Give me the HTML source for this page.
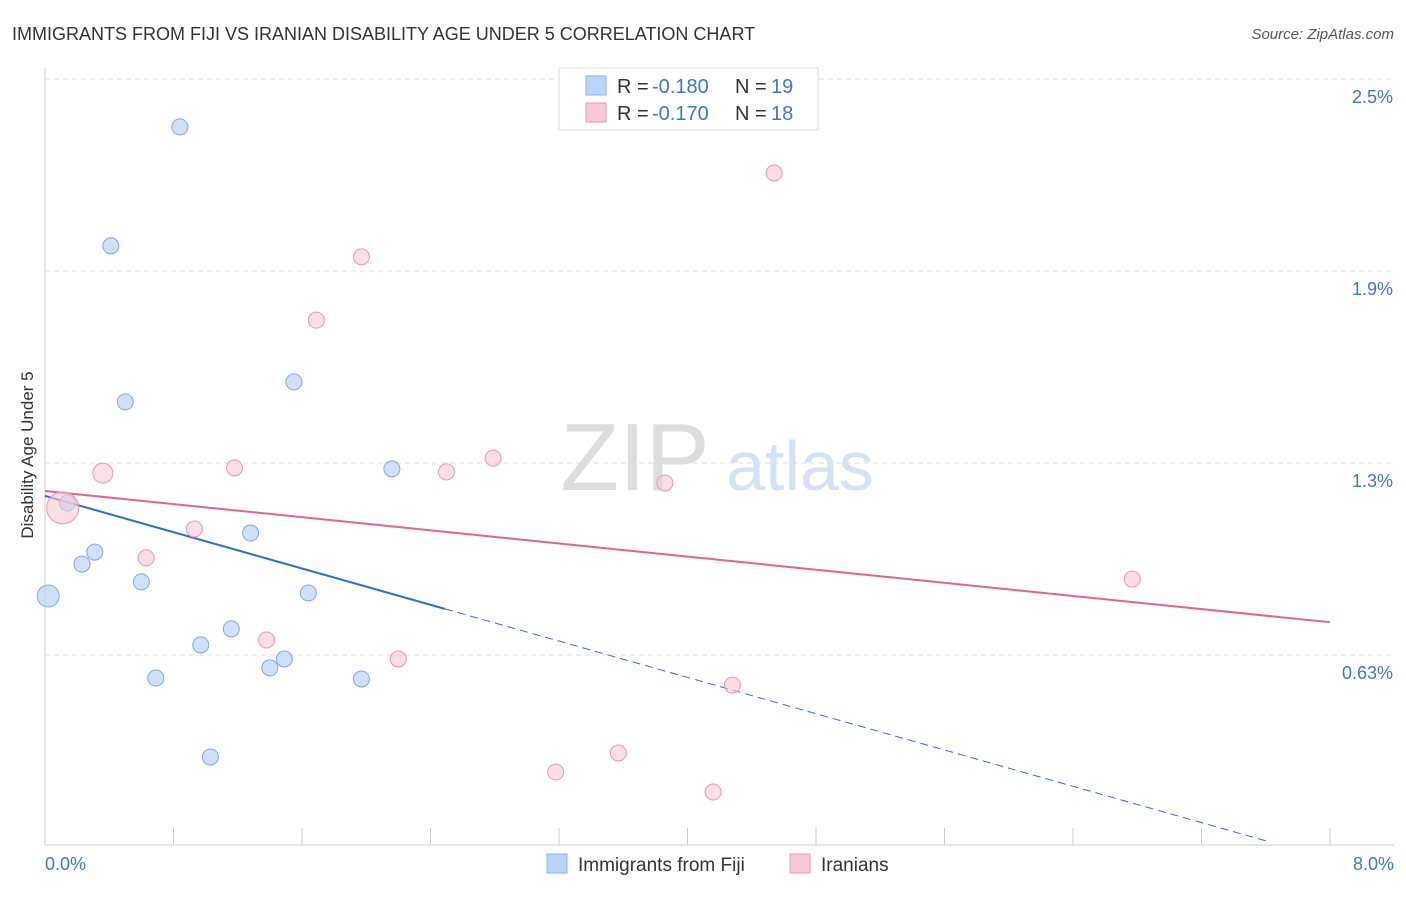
<!DOCTYPE html>
<html><head><meta charset="utf-8"><style>
body{margin:0;background:#fff;font-family:"Liberation Sans",sans-serif;}
svg text{font-family:"Liberation Sans",sans-serif;}
</style></head><body>
<svg id="c" width="1406" height="892" xmlns="http://www.w3.org/2000/svg">
<text x="12" y="40" font-size="18" fill="#333">IMMIGRANTS FROM FIJI VS IRANIAN DISABILITY AGE UNDER 5 CORRELATION CHART</text>
<text x="1394" y="39" font-size="15" fill="#555" font-style="italic" text-anchor="end">Source: ZipAtlas.com</text>
<text x="33" y="455" font-size="17" fill="#333" text-anchor="middle" transform="rotate(-90 33 455)">Disability Age Under 5</text>
<g><text x="635" y="490" font-size="96" fill="#ddd" font-family="Liberation Serif" text-anchor="middle">ZIP</text><text x="800" y="490" font-size="70" fill="#d4e2f4" text-anchor="middle">atlas</text></g>
<g id="grid"></g><g id="axes"></g><g id="trends"></g><g id="pts"></g>
<g>
<rect x="559" y="68" width="259" height="62" fill="#fff" stroke="#ddd"/>
<rect x="586" y="76" width="20" height="19" fill="#b9d4f5" stroke="#8ab3e8"/>
<text x="617" y="93" font-size="20" fill="#333">R =</text><text x="652" y="93" font-size="20" fill="#3a78d0">-0.180</text><text x="735" y="93" font-size="20" fill="#333">N =</text><text x="771" y="93" font-size="20" fill="#3a78d0">19</text>
<rect x="586" y="103" width="20" height="19" fill="#f9c8d6" stroke="#ee9ab2"/>
<text x="617" y="120" font-size="20" fill="#333">R =</text><text x="652" y="120" font-size="20" fill="#3a78d0">-0.170</text><text x="735" y="120" font-size="20" fill="#333">N =</text><text x="771" y="120" font-size="20" fill="#3a78d0">18</text>
</g>
<g>
<rect x="547" y="854" width="20" height="19" fill="#b9d4f5" stroke="#8ab3e8"/>
<text x="578" y="871" font-size="19" fill="#333">Immigrants from Fiji</text>
<rect x="790" y="854" width="20" height="19" fill="#f9c8d6" stroke="#ee9ab2"/>
<text x="821" y="871" font-size="19" fill="#333">Iranians</text>
</g>
</svg>
<script>
const yTicks=[0.625,1.25,1.875,2.5];
const yTickLabels=["0.63%","1.3%","1.9%","2.5%"];
const xTickLabels=["0.0%","8.0%"];
const fijiX=[0.84,0.41,0.50,1.55,2.16,0.14,0.31,0.23,0.60,1.28,1.64,0.02,1.16,0.97,1.49,1.40,0.69,1.97,1.03];
const fijiY=[2.344,1.957,1.449,1.514,1.231,1.120,0.960,0.921,0.863,1.022,0.827,0.817,0.710,0.658,0.612,0.583,0.550,0.547,0.293];
const fijiR=[8,8,8,8,8,8,8,8,8,8,8,11,8,8,8,8,8,8,8];
const iranXs=[4.54,1.97,1.69,1.18,0.36,2.50,2.79,3.86,0.11,0.93,0.63,6.77,1.38,2.20,4.28,3.57,3.18,4.16];
const iranYs=[2.194,1.921,1.715,1.234,1.217,1.221,1.266,1.185,1.104,1.035,0.941,0.872,0.674,0.612,0.527,0.306,0.244,0.179];
const iranR=[8,8,8,8,10,8,8,8,16,8,8,8,8,8,8,8,8,8];
const fijiTrend=[1.143,-0.1477];
const iranTrend=[1.159,-0.0534];
const NS="http://www.w3.org/2000/svg";
const X=v=>45+v*160.6, Y=v=>847-v*307.2;
function mk(tag,attrs,parent){const e=document.createElementNS(NS,tag);for(const k in attrs)e.setAttribute(k,attrs[k]);document.getElementById(parent).appendChild(e);return e;}
yTicks.forEach((t,i)=>{
 const l=mk('line',{x1:45,x2:1394,y1:Y(t),y2:Y(t),stroke:'#ddd','stroke-dasharray':'5,4'},'grid');
 
 
 const tx=mk('text',{x:1393,y:Y(t)+24,'font-size':18,fill:'#3a78d0','text-anchor':'end'},'grid');
 tx.textContent=yTickLabels[i];
 
 
});
mk('line',{x1:45,x2:45,y1:68,y2:845,stroke:'#ccc'},'axes');
const xa=mk('line',{x1:45,x2:1394,y1:845,y2:845,stroke:'#ccc'},'axes');


for(let i=1;i<=10;i++){const xx=45+i*128.5;mk('line',{x1:xx,x2:xx,y1:828,y2:845,stroke:'#ccc'},'axes');}
[[0,'start',45],[8,'end',1394]].forEach((a,i)=>{
 const t=mk('text',{x:a[2],y:870,'font-size':18,fill:'#3a78d0','text-anchor':a[1]},'axes');
 t.textContent=xTickLabels[i];
 
 
});
const bEnd=2.49, bDash=7.6;
const l1=mk('line',{x1:X(0),y1:Y(fijiTrend[0]),x2:X(bEnd),y2:Y(fijiTrend[0]+fijiTrend[1]*bEnd),stroke:'#2e6fd6','stroke-width':2},'trends');


const l2=mk('line',{x1:X(bEnd),y1:Y(fijiTrend[0]+fijiTrend[1]*bEnd),x2:X(bDash),y2:Y(fijiTrend[0]+fijiTrend[1]*bDash),stroke:'#2e6fd6','stroke-width':1,'stroke-dasharray':'8,5'},'trends');


const l3=mk('line',{x1:X(0),y1:Y(iranTrend[0]),x2:X(8),y2:Y(iranTrend[0]+iranTrend[1]*8),stroke:'#e8628b','stroke-width':2},'trends');


fijiX.forEach((v,i)=>{
 const c=mk('circle',{cx:X(v),cy:Y(fijiY[i]),r:fijiR[i],fill:'rgba(185,212,245,0.7)',stroke:'#7ea9e0'},'pts');
 
 
});
iranXs.forEach((v,i)=>{
 const c=mk('circle',{cx:X(v),cy:Y(iranYs[i]),r:iranR[i],fill:'rgba(249,200,214,0.6)',stroke:'#eb97b0'},'pts');
 
 
});
</script>
</body></html>
